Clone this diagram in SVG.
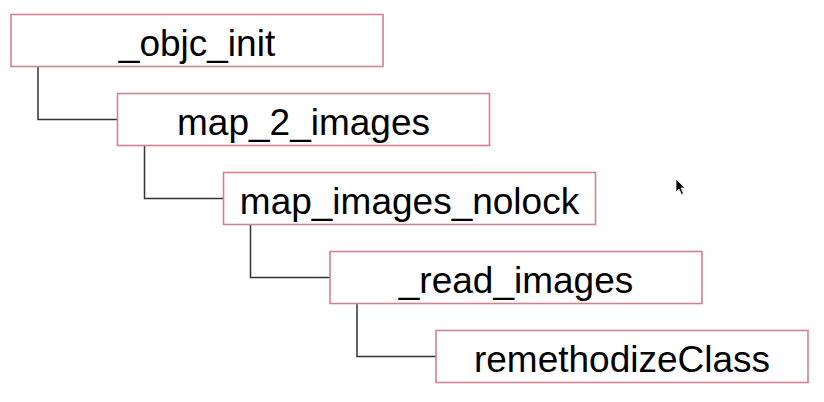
<svg xmlns="http://www.w3.org/2000/svg" width="824" height="402" viewBox="0 0 824 402">
<style>
.box{fill:#fff;stroke:#d4808f;stroke-width:1.6}
.lbl{font-family:"Liberation Sans",Arial,sans-serif;font-size:37px;fill:#000;text-anchor:middle}
.con{fill:none;stroke:#333;stroke-width:1.5}
</style>
<rect width="824" height="402" fill="#fff"/>
<g id="connectors">
<path class="con" d="M38,66.5 V119.5 H117.5"/>
<path class="con" d="M144.5,145.5 V198.5 H223.5"/>
<path class="con" d="M250.5,224.5 V277.5 H330"/>
<path class="con" d="M357,303.5 V356.5 H436"/>
</g>
<g id="objc_init"><rect class="box" x="11" y="14.5" width="372" height="52"/><text class="lbl" x="197" y="56">_objc_init</text></g>
<g id="map_2_images"><rect class="box" x="117.5" y="93.5" width="372" height="52"/><text class="lbl" x="303.5" y="135">map_2_images</text></g>
<g id="map_images_nolock"><rect class="box" x="223.5" y="172.5" width="372" height="52"/><text class="lbl" x="409.5" y="214">map_images_nolock</text></g>
<g id="read_images"><rect class="box" x="330" y="251.5" width="372" height="52"/><text class="lbl" x="516" y="293">_read_images</text></g>
<g id="remethodizeClass"><rect class="box" x="436" y="330.5" width="372" height="52"/><text class="lbl" x="622" y="372">remethodizeClass</text></g>
<path d="M676,179 L676,192 L679,189 L681.5,194.5 L683.5,193.5 L681,188 L685,188 Z" fill="#000" stroke="#fff" stroke-width="0.8"/>
</svg>
